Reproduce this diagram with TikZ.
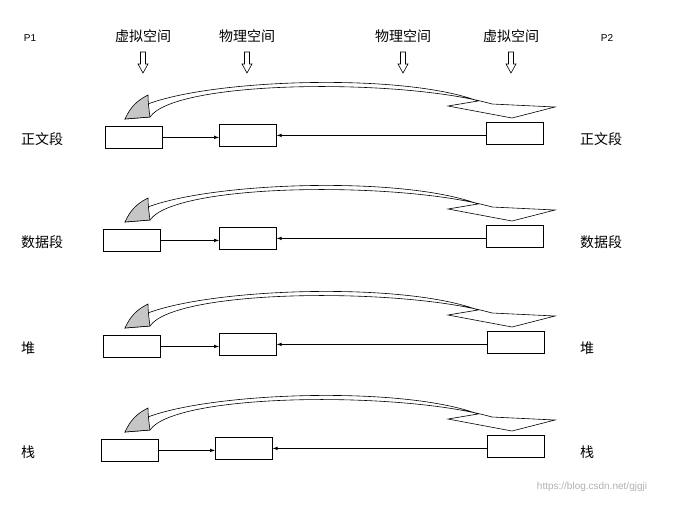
\documentclass[tikz,border=0pt]{standalone}
\usepackage{fontspec}
\setmainfont{Liberation Sans}
\newfontfamily\cjk{Noto Sans CJK SC}
\begin{document}
\begin{tikzpicture}[x=1pt,y=-1pt,
  box/.style={draw,line width=0.8pt,minimum width=57pt,minimum height=22pt,inner sep=0pt},
  lbl/.style={font=\cjk\fontsize{14}{14}\selectfont,inner sep=0pt},
  link/.style={line width=0.7pt,-latex}]
\useasboundingbox (0,0) rectangle (690,504);
\fill[white] (0,0) rectangle (690,504);
\node[font=\fontsize{10}{10}\selectfont] (p1) at (30,38) {P1};
\node[font=\fontsize{10}{10}\selectfont] (p2) at (607,38) {P2};
\foreach \x/\t [count=\i] in {143/虚拟空间,247/物理空间,403/物理空间,511/虚拟空间}{
  \node[lbl] (h\i) at (\x,36) {\t};
  \draw[line width=0.6pt] (\x-2.5,52) -- (\x+2.5,52) -- (\x+2.5,64) -- (\x+5,64) -- (\x,73) -- (\x-5,64) -- (\x-2.5,64) -- cycle;
}
\foreach \dy/\a/\b/\c/\t [count=\r] in {0/105/219/486/正文段,103/103/219/486/数据段,209/103/219/487/堆,313/101/215/487/栈}{
  \begin{scope}[yshift=-\dy]
  \node[box,anchor=north west] (L\r) at (\a,126) {};
  \node[box,anchor=north west] (M\r) at (\b,124) {};
  \node[box,anchor=north west] (R\r) at (\c,122) {};
  \draw[link] (L\r) -- (L\r.east -| M\r.west);
  \draw[link] (R\r.west |- M\r.east) -- (M\r);
  \node[lbl,anchor=west] (tl\r) at (21,139) {\t};
  \node[lbl,anchor=west] (tr\r) at (580,139) {\t};
  \draw[line width=0.6pt,fill=white] (125,119) .. controls (145,82) and (390,68) .. (478,101)
     -- (448,106) -- (512,118) -- (555,107) -- (492,104)
     .. controls (400,78) and (175,80) .. (150,117) -- cycle;
  \draw[line width=0.6pt,fill=gray!45] (125,119) .. controls (130,108) and (136,101) .. (148,95)
     .. controls (148,102) and (149,110) .. (150,117) -- cycle;
  \end{scope}
}
\node[font=\fontsize{10}{10}\selectfont,text=gray!60] (wm) at (592,487) {https://blog.csdn.net/gjgji};
\end{tikzpicture}
\end{document}
